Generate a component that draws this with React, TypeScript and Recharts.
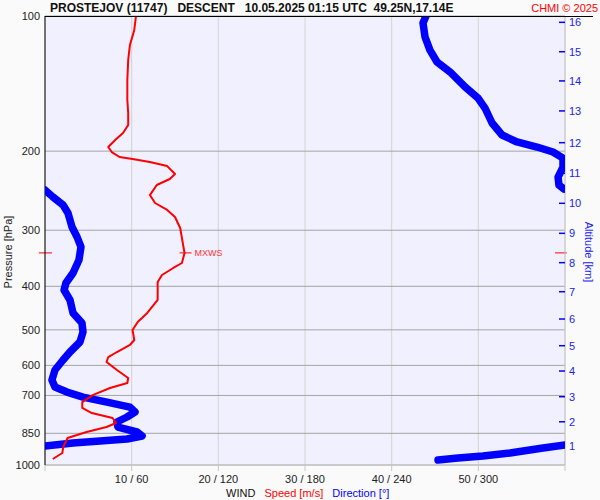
import React from 'react';
import { ScatterChart, Scatter, XAxis, YAxis, CartesianGrid, ReferenceLine } from 'recharts';

// wind speed profile [m/s] vs pressure [hPa]
const speedP = [100, 107.4, 116, 125.3, 138.8, 153.8, 164.5, 174.9, 182.2, 188.9, 195.8, 200.9, 206.1, 208.3, 211.5, 215.9, 224.9, 230.7, 237.9, 250.5, 260.9, 270.4, 280.3, 296.6, 320.4, 337.2, 354.9, 364.1, 377.4, 391.2, 429, 458.6, 480.3, 500.4, 526.7, 540.4, 560.2, 574.8, 589.7, 614.4, 640.2, 656.8, 673.9, 698.6, 724.1, 746.5, 766, 785.8, 806.2, 822.9, 844.3, 870.7, 912, 940.4, 969.6];
const speedMs = [10.5, 10.3, 9.8, 9.6, 9.5, 9.5, 9.6, 9.6, 9.0, 8.1, 7.3, 7.7, 8.6, 10.1, 12.1, 14.1, 15.0, 14.4, 12.9, 12.1, 12.7, 14.1, 15.0, 15.6, 15.9, 16.1, 15.8, 14.8, 13.5, 13.0, 13.0, 11.8, 10.7, 10.1, 10.3, 9.8, 8.3, 7.3, 7.1, 8.3, 9.6, 9.5, 7.5, 5.5, 4.3, 4.3, 5.4, 7.8, 8.2, 7.1, 4.8, 2.6, 2.1, 2.0, 0.9];

// wind direction [deg], split where it wraps through north
const dirTopP = [100, 103.7, 111.4, 119.1, 126.6, 133.2, 143.9, 152.3, 160.3, 173.1, 184.1, 190.8, 195.8, 200.9, 207.3, 217, 228.4, 237.9, 242.8];
const dirTopDeg = [263.8, 261.7, 263.1, 266.5, 271.4, 280.4, 290.8, 299.8, 304.6, 309.5, 316.4, 326.8, 340.6, 351.7, 358.6, 358.6, 355.2, 355.8, 359.3];
const dirMidP = [244.1, 253, 263.6, 274.6, 295.1, 310.6, 326.9, 349.6, 373.6, 393.3, 407.6, 429, 458.6, 482.8, 505.6, 532.2, 560.2, 583.6, 614.4, 646.8, 670.6, 688, 705.9, 724.1, 742.9, 762.1, 781.8, 802.1, 823, 844.3, 861.8, 875.2, 893.3, 907.3];
const dirMidDeg = [0, 5.5, 12.5, 15.9, 18.7, 22.2, 24.9, 23.5, 19.4, 14.5, 13.2, 17.3, 19.4, 25.6, 26.3, 24.2, 17.3, 12.5, 6.9, 4.8, 6.9, 15.2, 26.3, 42.9, 58.8, 62.3, 56.8, 49.8, 50.5, 63.7, 67.2, 56.8, 19.4, 0];
const dirLowP = [902.7, 916.6, 940.4, 955, 964.8, 974.8];
const dirLowDeg = [360, 344.8, 321.9, 303.2, 285.9, 272.1];

const pressureTicks = [100, 200, 300, 400, 500, 600, 700, 850, 925, 1000];
const speedTicks = [0, 10, 20, 30, 40, 50, 60];
const altitudeKm = [1, 2, 3, 4, 5, 6, 7, 8, 9, 10, 11, 12, 13, 14, 15, 16];
const altitudeP = [905.9, 801.2, 704.5, 617.6, 542.4, 473, 411.2, 354.3, 304.8, 261.3, 224, 191.5, 162.7, 139.5, 120.1, 103.3];
const maxWind = [{ s: 16.1, p: 337 }];

const FONT = 'Arial, "Liberation Sans", sans-serif';

const speedData = speedP.map((p, i) => ({ p, s: speedMs[i] }));
const toDir = (ps: number[], ds: number[]) => ps.map((p, i) => ({ p, s: ds[i] / 6 }));
const dirTop = toDir(dirTopP, dirTopDeg);
const dirMid = toDir(dirMidP, dirMidDeg);
const dirLow = toDir(dirLowP, dirLowDeg);

const NoDot = () => <g />;

const AltTick = (props: any) => {
  const { x, y, payload } = props;
  const i = altitudeP.indexOf(payload.value);
  return (
    <g>
      <line x1={x - 6} x2={x} y1={y} y2={y} stroke="#0000ff" strokeWidth={1.5} />
      <text x={x + 4} y={y} dy={4} fill="#2222ee" fontSize={11} fontFamily={FONT}>
        {altitudeKm[i]}
      </text>
    </g>
  );
};

const MxwsMark = (props: any) => {
  const { cx, cy } = props;
  return (
    <g>
      <line x1={cx - 5} x2={cx + 7} y1={cy} y2={cy} stroke="#ff0000" strokeWidth={1} />
      <text x={cx + 10} y={cy} dy={3} fill="#ff3333" fontSize={9} fontFamily={FONT}>MXWS</text>
    </g>
  );
};

const dirLine = { stroke: '#0000ff', strokeWidth: 7.5, strokeLinejoin: 'round', strokeLinecap: 'round' };

export default function App() {
  return (
    <div style={{ position: 'absolute', left: 0, top: 0, width: 600, height: 500, background: '#fafafa', fontFamily: FONT }}>
      <ScatterChart width={600} height={500} margin={{ top: 16, right: 0, bottom: 0, left: 0 }}>
        <CartesianGrid yAxisId="p" horizontal={false} vertical={true} stroke="#d4d4d4" fill="#f0f0ff" />
        <CartesianGrid yAxisId="p" horizontal={true} vertical={false} stroke="#a4a4a4" />
        <XAxis
          type="number"
          dataKey="s"
          domain={[0, 60]}
          ticks={speedTicks}
          allowDataOverflow
          height={35}
          tickSize={6}
          tickMargin={4}
          stroke="#c8c8c8"
          tick={{ fill: '#222', fontSize: 11, fontFamily: FONT }}
          tickFormatter={(v: number) => (v === 0 || v === 60 ? '' : `${v} / ${v * 6}`)}
        />
        <YAxis
          yAxisId="p"
          type="number"
          dataKey="p"
          scale="log"
          domain={[100, 1000]}
          allowDataOverflow
          reversed
          ticks={pressureTicks}
          width={45}
          tickSize={0}
          tickMargin={5}
          axisLine={{ stroke: '#000' }}
          tickLine={false}
          tick={{ fill: '#222', fontSize: 11, fontFamily: FONT }}
        />
        <YAxis
          yAxisId="alt"
          orientation="right"
          type="number"
          dataKey="p"
          scale="log"
          domain={[100, 1000]}
          allowDataOverflow
          reversed
          ticks={altitudeP}
          width={35}
          tickSize={0}
          tickMargin={0}
          axisLine={{ stroke: '#c8c8c8' }}
          tickLine={false}
          tick={AltTick}
        />
        <ReferenceLine yAxisId="p" ifOverflow="visible" segment={[{ x: -0.7, y: 337 }, { x: 0.8, y: 337 }]} stroke="#ff0000" />
        <ReferenceLine yAxisId="p" ifOverflow="visible" segment={[{ x: 58.85, y: 337 }, { x: 60.2, y: 337 }]} stroke="#ff0000" />
        <Scatter yAxisId="p" data={dirTop} fill="#0000ff" line={dirLine} lineType="joint" shape={NoDot} isAnimationActive={false} />
        <Scatter yAxisId="p" data={dirMid} fill="#0000ff" line={dirLine} lineType="joint" shape={NoDot} isAnimationActive={false} />
        <Scatter yAxisId="p" data={dirLow} fill="#0000ff" line={dirLine} lineType="joint" shape={NoDot} isAnimationActive={false} />
        <Scatter yAxisId="p" data={speedData} fill="#ff0000" line={{ stroke: '#ff0000', strokeWidth: 2, strokeLinejoin: 'round' }} lineType="joint" shape={NoDot} isAnimationActive={false} />
        <Scatter yAxisId="p" data={maxWind} fill="#ff0000" shape={MxwsMark} isAnimationActive={false} />
      </ScatterChart>

      <div style={{ position: 'absolute', left: 50, top: 0, fontSize: 12, fontWeight: 'bold', color: '#111', whiteSpace: 'pre', lineHeight: '16px' }}>
        {'PROSTEJOV (11747)   DESCENT   10.05.2025 01:15 UTC  49.25N,17.14E'}
      </div>
      <div style={{ position: 'absolute', right: 2, top: 1, fontSize: 11, color: '#ff0000', lineHeight: '14px' }}>CHMI © 2025</div>
      <div style={{ position: 'absolute', left: 45, top: 16, width: 548, borderTop: '1px solid #000' }} />

      <div style={{ position: 'absolute', left: 8, top: 252, transform: 'translate(-50%, -50%) rotate(-90deg)', fontSize: 11, color: '#222', whiteSpace: 'nowrap' }}>
        Pressure [hPa]
      </div>
      <div style={{ position: 'absolute', left: 589, top: 252, transform: 'translate(-50%, -50%) rotate(90deg)', fontSize: 11, color: '#2222ee', whiteSpace: 'nowrap' }}>
        Altitude [km]
      </div>

      <div style={{ position: 'absolute', left: 226, top: 486, fontSize: 11, whiteSpace: 'pre', lineHeight: '14px' }}>
        <span style={{ color: '#111' }}>WIND</span>
        <span style={{ color: '#ff0000' }}>{'   Speed [m/s]'}</span>
        <span style={{ color: '#0000ff' }}>{'   Direction [°]'}</span>
      </div>
    </div>
  );
}
